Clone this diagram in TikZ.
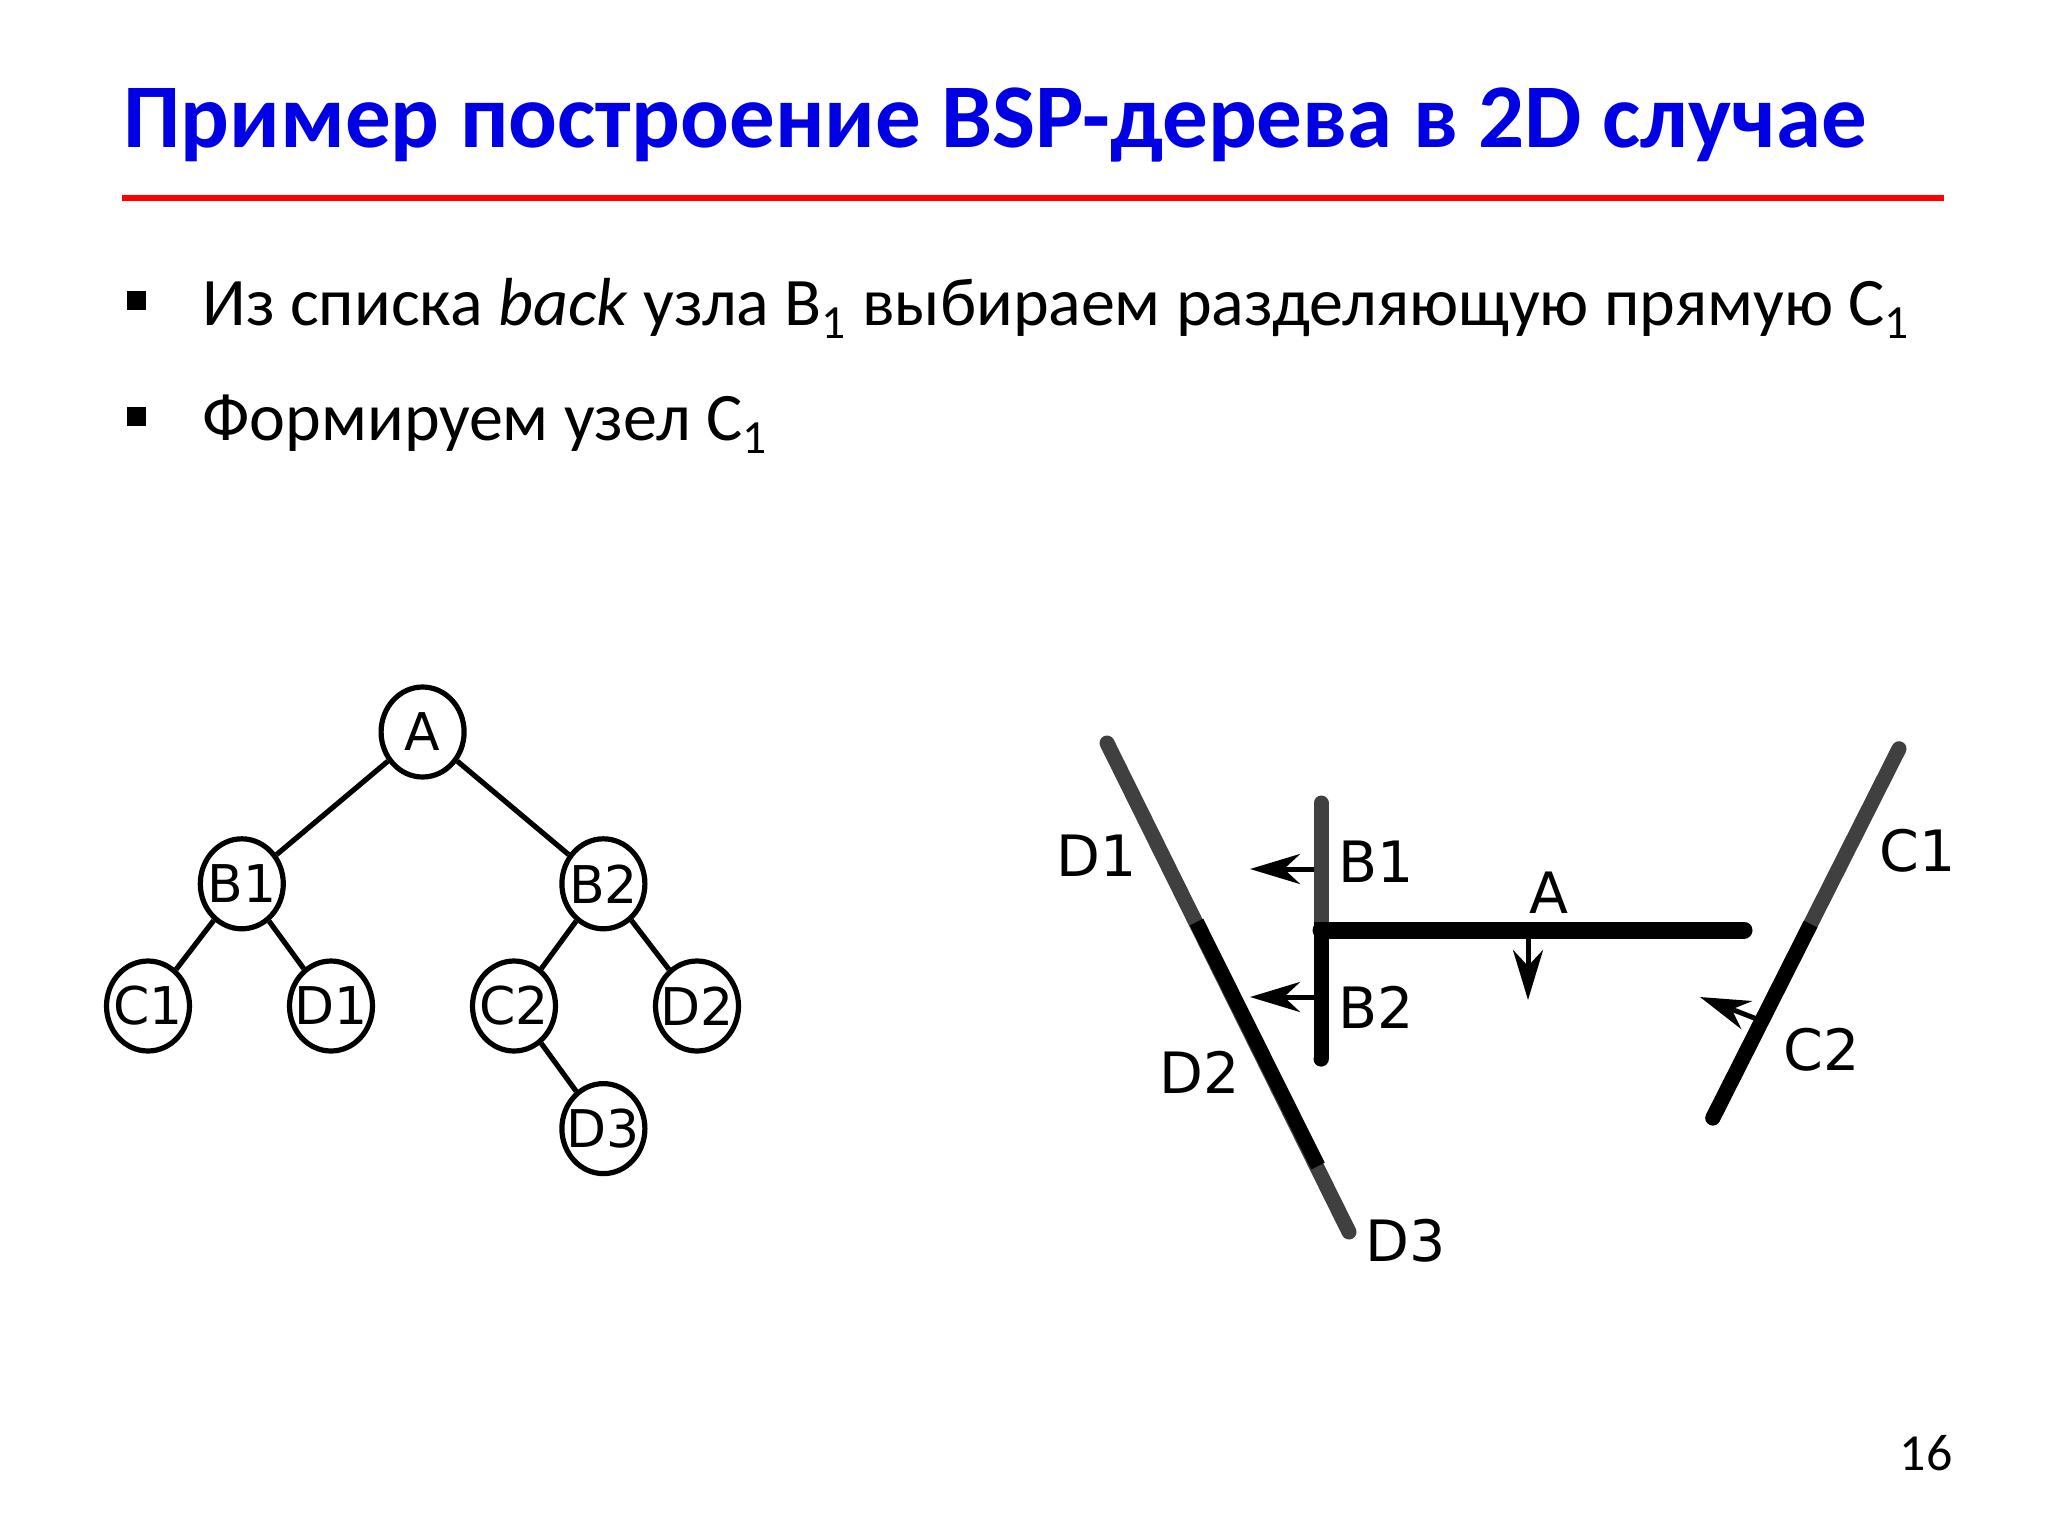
\documentclass[tikz,border=0pt]{standalone}
\usepackage{fontspec}
\setmainfont{Carlito}
\newfontfamily\djv{DejaVu Sans}
\usetikzlibrary{arrows.meta,shapes.geometric}
\definecolor{ttlblue}{RGB}{0,0,228}
\definecolor{redline}{RGB}{255,0,0}
\definecolor{segray}{RGB}{64,64,64}
\newcommand\zwlabel[1]{\makebox[0pt]{#1}}
\begin{document}
\begin{tikzpicture}[x=0.5pt,y=-0.5pt,
  treenode/.style={draw, ellipse, line width=2.6pt, minimum width=41.5pt, minimum height=45pt, inner sep=0pt, font=\djv\fontsize{26}{26}\selectfont},
  treeedge/.style={line width=2.6pt},
  lbl/.style={inner sep=0pt, font=\djv\fontsize{28.5}{28.5}\selectfont},
  seg/.style={line width=7.5pt, line cap=round, segray},
  segblack/.style={line width=7.5pt, line cap=butt, black},
  normarrow/.style={line width=2.5pt, -{Stealth[length=25pt, width=15pt, inset=8pt]}},
  bodytext/.style={anchor=base west, inner sep=0pt, font=\fontsize{34}{40}\selectfont},
  bulletsq/.style={fill=black, minimum size=9.5pt, inner sep=0pt}
]
\fill[white] (0,0) rectangle (2048,1536);
\useasboundingbox (0,0) rectangle (2048,1536);

% title
\node[anchor=base west, inner sep=0pt, text=ttlblue, font=\bfseries\fontsize{45.5}{52}\selectfont] (title) at (123,147.6) {Пример построение BSP-дерева в 2D случае};
\coordinate (rl) at (121.5,198);
\coordinate (rr) at (1943.5,198);
\draw[redline, line width=3pt] (rl) -- (rr);

% bullets
\node[bulletsq] (b1) at (136.5,300.5) {};
\node[bulletsq] (b2) at (136.5,416.7) {};
\node[bodytext] (t1) at (202,325) {Из списка \textit{back} узла B\textsubscript{1} выбираем разделяющую прямую C\textsubscript{1}};
\node[bodytext] (t2) at (202,440) {Формируем узел C\textsubscript{1}};

% page number
\node[anchor=base east, inner sep=0pt, font=\fontsize{26}{30}\selectfont] (pg) at (1953,1470) {16};

% tree
\node[treenode] (nA)  at (422.6,732)  {\zwlabel{A}};
\node[treenode] (nB1) at (241.8,883.8) {\zwlabel{B1}};
\node[treenode] (nB2) at (603.4,883.8) {\zwlabel{B2}};
\node[treenode] (nC1) at (148,1006) {\zwlabel{C1}};
\node[treenode] (nD1) at (331,1006) {\zwlabel{D1}};
\node[treenode] (nC2) at (514,1006) {\zwlabel{C2}};
\node[treenode] (nD2) at (697,1006) {\zwlabel{D2}};
\node[treenode] (nD3) at (603.4,1128.6) {\zwlabel{D3}};
\draw[treeedge] (nA) -- (nB1);
\draw[treeedge] (nA) -- (nB2);
\draw[treeedge] (nB1) -- (nC1);
\draw[treeedge] (nB1) -- (nD1);
\draw[treeedge] (nB2) -- (nC2);
\draw[treeedge] (nB2) -- (nD2);
\draw[treeedge] (nC2) -- (nD3);

% right diagram coordinates
\coordinate (Dtop) at (1107,743);
\coordinate (Dm1) at (1196.5,922);
\coordinate (Dm2) at (1318,1166);
\coordinate (Dbot) at (1349,1232);
\coordinate (Btop) at (1321,803);
\coordinate (Bmid) at (1321,922);
\coordinate (Bbot) at (1321,1059);
\coordinate (Aleft) at (1321,930);
\coordinate (Aright) at (1744,930);
\coordinate (Ctop) at (1899,748.7);
\coordinate (Cmid) at (1810.6,924);
\coordinate (Cbot) at (1712.8,1118);

% arrows (drawn under the lines)
\coordinate (ab1s) at (1321,869);
\coordinate (ab1t) at (1250,869);
\coordinate (ab2s) at (1321,997);
\coordinate (ab2t) at (1250,997);
\coordinate (aas) at (1528,930);
\coordinate (aat) at (1528,1000);
\coordinate (acs) at (1762,1021);
\coordinate (act) at (1700,997);
\draw[normarrow] (ab1s) -- (ab1t);
\draw[normarrow] (ab2s) -- (ab2t);
\draw[normarrow] (aas) -- (aat);
\draw[normarrow] (acs) -- (act);

% D line
\draw[seg] (Dtop) -- (Dbot);
\draw[segblack] (Dm1) -- (Dm2);
% B line
\draw[seg] (Btop) -- (Bbot);
\draw[segblack] (Bmid) -- (Bbot);
\fill[black] (Bbot) circle[radius=3.75pt];
% C line
\draw[seg] (Ctop) -- (Cbot);
\draw[segblack] (Cmid) -- (Cbot);
\fill[black] (Cbot) circle[radius=3.75pt];
% A line
\draw[line width=8.5pt, line cap=round, black] (Aleft) -- (Aright);

% labels
\node[lbl] (lD1) at (1097,856) {D1};
\node[lbl] (lB1) at (1376,862) {B1};
\node[lbl] (lA)  at (1549,893) {A};
\node[lbl] (lC1) at (1918,851) {C1};
\node[lbl] (lB2) at (1376,1007) {B2};
\node[lbl] (lC2) at (1822,1050) {C2};
\node[lbl] (lD2) at (1200,1072) {D2};
\node[lbl] (lD3) at (1406,1241) {D3};
\end{tikzpicture}
\end{document}
